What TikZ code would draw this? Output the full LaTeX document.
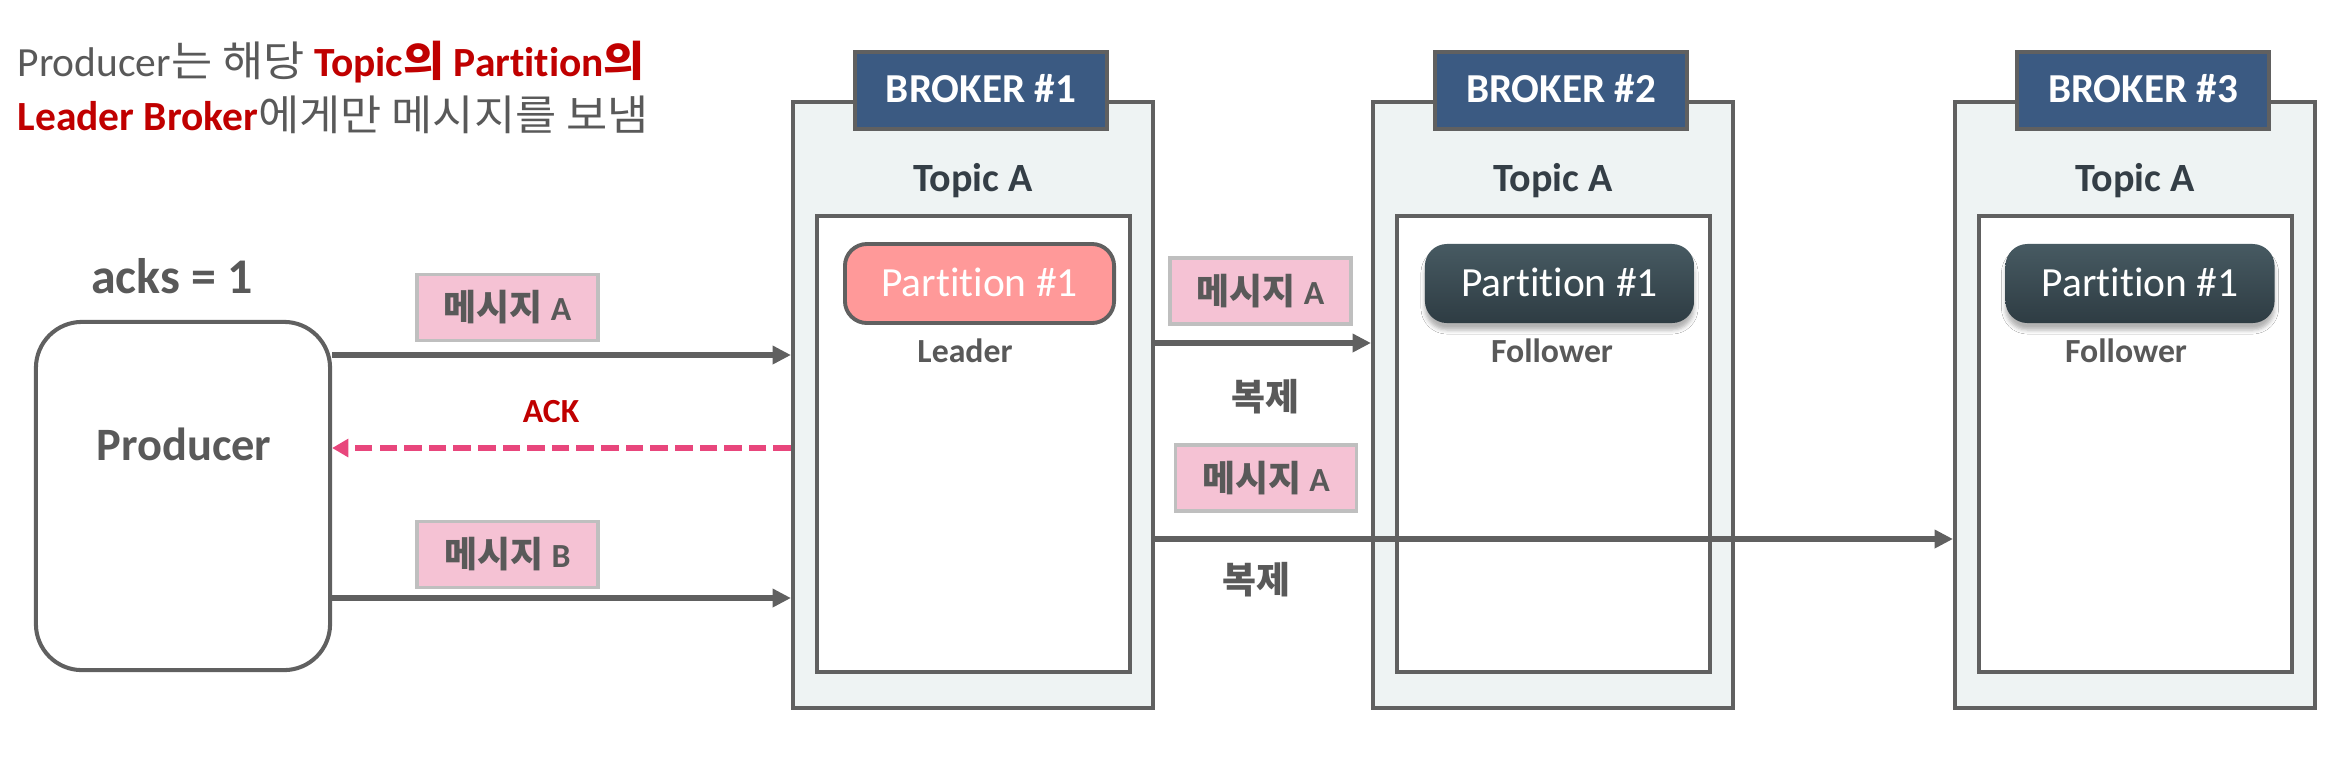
\documentclass[tikz,border=0pt]{standalone}
\usepackage{fontspec}
\setmainfont{Carlito}[Ligatures=NoCommon]
\newfontfamily\kr{Noto Sans CJK KR}
\newfontfamily\krw{Noto Sans CJK KR}[FakeStretch=1.07]
\usetikzlibrary{arrows.meta,shadows.blur}
\definecolor{tgray}{HTML}{595959}
\definecolor{lgray}{HTML}{606060}
\definecolor{tred}{HTML}{C00000}
\definecolor{tabblue}{HTML}{3B5A82}
\definecolor{bfill}{HTML}{EEF3F3}
\definecolor{lpink}{HTML}{F5C2D4}
\definecolor{lborder}{HTML}{BFBFBF}
\definecolor{salmon}{HTML}{FF9999}
\definecolor{dtop}{HTML}{475A62}
\definecolor{dbot}{HTML}{2E3C43}
\definecolor{ackpink}{HTML}{E8467C}
\definecolor{topicc}{HTML}{343E46}
\newcommand\fs[1]{\fontsize{#1}{#1}\selectfont}
\newcommand\tk[1]{{\fs{11.9}\krw #1}}
\begin{document}
\begin{tikzpicture}[x=0.01cm,y=-0.01cm,
  brokerbox/.style={draw=lgray, fill=bfill, line width=1.1pt, minimum width=3.6cm, minimum height=6.06cm, inner sep=0},
  tabbox/.style={draw=lgray, fill=tabblue, line width=1.1pt, minimum width=2.52cm, minimum height=0.77cm, inner sep=0},
  tabtext/.style={text=white, font=\fs{11.7}\bfseries, anchor=base, inner sep=0},
  topictext/.style={text=topicc, font=\fs{11.4}\bfseries, anchor=base, inner sep=0},
  innerbox/.style={draw=lgray, fill=white, line width=1pt, minimum width=3.13cm, minimum height=4.56cm, inner sep=0},
  leaderpart/.style={draw=lgray, fill=salmon, line width=1.1pt, rounded corners=0.22cm, minimum width=2.69cm, minimum height=0.79cm, inner sep=0},
  followpart/.style={top color=dtop, bottom color=dbot, draw=none, rounded corners=0.22cm, minimum width=2.69cm, minimum height=0.79cm, inner sep=0, blur shadow={shadow xshift=0pt, shadow yshift=-0.07cm, shadow blur radius=0.04cm, shadow opacity=30}},
  parttext/.style={text=white, font=\fs{11.8}, anchor=base, inner sep=0},
  roletext/.style={text=tgray, font=\fs{9.6}\bfseries, anchor=base, inner sep=0},
  msgbox/.style={draw=lborder, fill=lpink, line width=1pt, minimum width=1.81cm, minimum height=0.66cm, inner sep=0, text=tgray, font=\bfseries},
  repltext/.style={text=tgray, font=\fs{10.5}\bfseries\kr, inner sep=0},
  prodbox/.style={draw=lgray, line width=1.15pt, rounded corners=0.46cm, minimum width=2.94cm, minimum height=3.48cm, inner sep=0},
  arr/.style={draw=lgray, line width=1.6pt, -{Triangle[length=5.2pt,width=5pt]}},
  ackarr/.style={draw=ackpink, line width=1.6pt, dash pattern=on 5pt off 2pt, -{Triangle[length=4.6pt,width=5pt]}}
]
\useasboundingbox (0,0) rectangle (2352,778);

% title
\node[anchor=base west, inner sep=0, text=tgray, font=\fs{11.8}] (title1) at (17,76)
  {Producer\tk{는 해당} \textcolor{tred}{\bfseries Topic\tk{의} Partition\tk{의}}};
\node[anchor=base west, inner sep=0, text=tgray, font=\fs{11.8}] (title2) at (17,130)
  {\textcolor{tred}{\bfseries Leader Broker}\tk{에게만 메시지를 보냄}};

% producer
\node[prodbox] (prod) at (183,496) {};
\node[anchor=base, inner sep=0, text=tgray, font=\fs{13.2}\bfseries] (prodlbl) at (184,460) {Producer};
\node[anchor=base, inner sep=0, text=tgray, font=\fs{14.2}\bfseries] (acks) at (172,293) {acks = 1};

% brokers
\foreach \i/\dx in {1/0,2/580,3/1162}{
  \node[brokerbox] (b\i) at (973+\dx,405) {};
  \node[tabbox] (tab\i) at (981+\dx,90.5) {};
  \node[tabtext] (tabt\i) at (981+\dx,102) {BROKER \#\i};
  \node[topictext] (topic\i) at (973+\dx,191) {Topic A};
  \node[innerbox] (in\i) at (973.5+\dx,444) {};
}
\node[leaderpart] (p1) at (979.5,283.5) {};
\node[followpart] (p2) at (1559.5,283.5) {};
\node[followpart] (p3) at (2140,283.5) {};
\node[parttext] (pt1) at (979.5,296) {Partition \#1};
\node[parttext] (pt2) at (1559.5,296) {Partition \#1};
\node[parttext] (pt3) at (2140,296) {Partition \#1};
\node[roletext] (r1) at (965,362) {Leader};
\node[roletext] (r2) at (1552,362) {Follower};
\node[roletext] (r3) at (2126,362) {Follower};

% message labels
\node[msgbox] (mA) at (507.5,307.5) {{\fs{10.2}\kr 메시지} {\fs{9.6}A}};
\node[msgbox] (mB) at (507.5,554.5) {{\fs{10.2}\kr 메시지} {\fs{9.6}B}};
\node[msgbox] (mR1) at (1260.5,291) {{\fs{10.2}\kr 메시지} {\fs{9.6}A}};
\node[msgbox] (mR2) at (1266,478) {{\fs{10.2}\kr 메시지} {\fs{9.6}A}};
\node[repltext] (rep1) at (1265,397) {복제};
\node[repltext] (rep2) at (1256,580) {복제};
\node[anchor=base, inner sep=0, text=tred, font=\fs{9.6}\bfseries] (ack) at (551,422) {ACK};

% connectors
\coordinate (ya) at (0,355);
\coordinate (yk) at (0,448);
\coordinate (yb) at (0,598);
\coordinate (yr1) at (0,343);
\coordinate (yr2) at (0,539);
\draw[arr] (prod.east |- ya) -- (b1.west |- ya);
\draw[ackarr] (b1.west |- yk) -- (prod.east |- yk);
\draw[arr] (prod.east |- yb) -- (b1.west |- yb);
\draw[arr] (b1.east |- yr1) -- (b2.west |- yr1);
\draw[arr] (b1.east |- yr2) -- (b3.west |- yr2);
\end{tikzpicture}
\end{document}
